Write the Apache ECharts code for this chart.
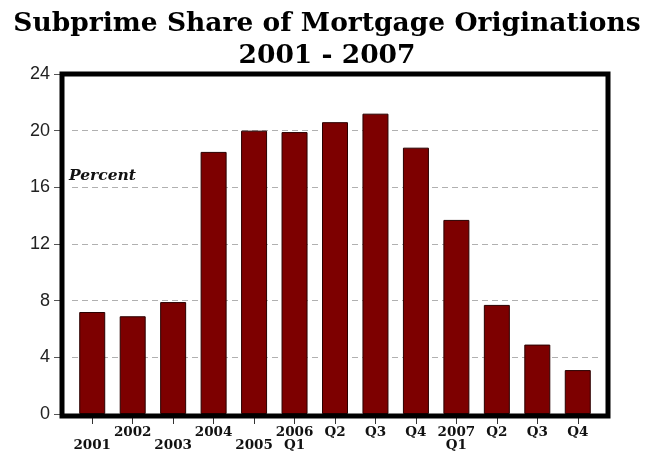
<!DOCTYPE html>
<html>
<head>
<meta charset="utf-8">
<title>Subprime Share of Mortgage Originations</title>
<script src="https://cdn.jsdelivr.net/npm/echarts@6/dist/echarts.min.js"></script>
<style>
  html, body { margin: 0; padding: 0; background: #fff; }
  #chart { width: 654px; height: 455px; }
</style>
</head>
<body>
<div id="chart"></div>
<script>
// Subprime share of mortgage originations, percent
const periods = ['2001', '2002', '2003', '2004', '2005',
                 '2006 Q1', '2006 Q2', '2006 Q3', '2006 Q4',
                 '2007 Q1', '2007 Q2', '2007 Q3', '2007 Q4'];
const subprimeShare = [7.2, 6.9, 7.9, 18.5, 20.0, 19.9, 20.6, 21.2, 18.8, 13.7, 7.7, 4.9, 3.1];
// Staggered axis labels: a leading blank line drops a label to the second row
const periodLabels = ['\n2001', '2002', '\n2003', '2004', '\n2005',
                      '2006\nQ1', 'Q2', 'Q3', 'Q4',
                      '2007\nQ1', 'Q2', 'Q3', 'Q4'];
const yTicks = { min: 0, max: 24, interval: 4 };
const titleLines = ['Subprime Share of Mortgage Originations', '2001 - 2007'];
const unitLabel = 'Percent';

const chart = echarts.init(document.getElementById('chart'), null, { renderer: 'canvas' });

const labelFor = {};
periods.forEach((p, i) => { labelFor[p] = periodLabels[i]; });

chart.setOption({
  backgroundColor: '#fff',
  animation: false,
  title: {
    text: titleLines.join('\n'),
    left: 'center',
    top: 3,
    textStyle: {
      fontFamily: 'DejaVu Serif',
      fontWeight: 'bold',
      fontSize: 26.5,
      lineHeight: 32,
      color: '#000'
    }
  },
  grid: { left: 72, right: 56, top: 74, bottom: 41 },
  xAxis: {
    type: 'category',
    data: periods,
    axisLine: { show: false },
    axisTick: { show: true, alignWithLabel: true, length: 10, lineStyle: { color: '#333', width: 1 } },
    axisLabel: {
      interval: 0,
      margin: 12,
      formatter: v => labelFor[v],
      fontFamily: 'DejaVu Serif',
      fontWeight: 'bold',
      fontSize: 13.5,
      lineHeight: 13,
      color: '#111'
    },
    splitLine: { show: false }
  },
  yAxis: {
    type: 'value',
    min: yTicks.min,
    max: yTicks.max,
    interval: yTicks.interval,
    offset: 10,
    axisLine: { show: false },
    axisTick: { show: true, length: 8, lineStyle: { color: '#555', width: 1 } },
    axisLabel: {
      margin: 12,
      fontFamily: 'Liberation Sans',
      fontSize: 18,
      color: '#222'
    },
    splitLine: { show: true, lineStyle: { color: '#b0b0b0', type: [6, 4], width: 1 } }
  },
  series: [{
    type: 'bar',
    data: subprimeShare,
    barWidth: 26,
    itemStyle: { color: '#7d0000', borderColor: '#2a0000', borderWidth: 1 }
  }],
  graphic: [
    {
      type: 'rect',
      shape: { x: 62, y: 74, width: 546, height: 342 },
      style: { fill: 'none', stroke: '#000', lineWidth: 5 },
      z: 100
    },
    {
      type: 'text',
      left: 69,
      top: 168,
      style: {
        text: unitLabel,
        font: 'italic bold 15.5px "DejaVu Serif"',
        fill: '#111'
      },
      z: 100
    }
  ]
});
</script>
</body>
</html>
